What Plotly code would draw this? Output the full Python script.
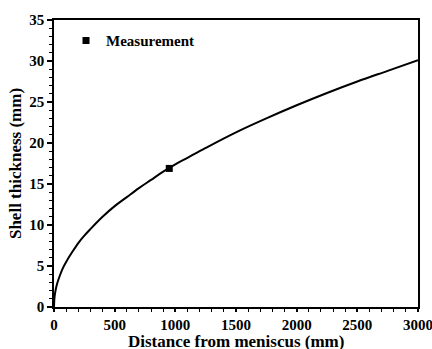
import plotly.graph_objects as go

curve_x = [0, 3, 10, 25, 50, 75, 100, 150, 200, 250, 300, 400, 500, 600, 700, 800, 900, 1000,
           1100, 1250, 1500, 1750, 2000, 2250, 2500, 2750, 3000]
curve_y = [0, 1.0, 1.8, 2.8, 3.9, 4.8, 5.5, 6.7, 7.8, 8.7, 9.5, 11.0, 12.3, 13.4, 14.5, 15.5, 16.5, 17.4,
           18.2, 19.4, 21.3, 23.0, 24.6, 26.1, 27.5, 28.8, 30.1]
meas_x = [950]
meas_y = [16.9]

FONT = "Liberation Serif"

fig = go.Figure()
fig.add_trace(go.Scatter(x=curve_x, y=curve_y, mode="lines", line=dict(color="black", width=2, shape="spline"),
                         showlegend=False))
fig.add_trace(go.Scatter(x=meas_x, y=meas_y, mode="markers", name="<b>Measurement</b>",
                         marker=dict(symbol="square", color="black", size=7)))

axis_common = dict(showgrid=False, zeroline=False, showline=True, linecolor="black", linewidth=1.5,
                   mirror=True, ticks="outside", tickwidth=1.5, tickcolor="black",
                   ticklabeloverflow="allow",
                   tickfont=dict(family=FONT, size=15, color="black"))
xt = [0, 500, 1000, 1500, 2000, 2500, 3000]
yt = [0, 5, 10, 15, 20, 25, 30, 35]
fig.update_xaxes(range=[0, 3000], tickvals=xt, ticktext=["<b>%d</b>" % v for v in xt],
                 automargin=False, ticklen=3,
                 minor=dict(ticks="outside", dtick=100, ticklen=3, tickwidth=1.2, tickcolor="black"),
                 **axis_common)
fig.update_yaxes(range=[0, 35], tickvals=yt, ticktext=["<b>%d</b>" % v for v in yt],
                 automargin=True, ticklen=5,
                 minor=dict(ticks="outside", dtick=1, ticklen=3, tickwidth=1.2, tickcolor="black"),
                 title=dict(text="<b>Shell thickness (mm)</b>", font=dict(family=FONT, size=17, color="black"),
                            standoff=3),
                 **axis_common)
fig.add_annotation(text="<b>Distance from meniscus (mm)</b>", xref="paper", yref="paper",
                   x=0.5, y=-0.12, xanchor="center", yanchor="middle", showarrow=False,
                   font=dict(family=FONT, size=17, color="black"))
fig.update_layout(width=432, height=349, margin=dict(l=54, r=13, t=17, b=42),
                  plot_bgcolor="white", paper_bgcolor="white",
                  legend=dict(x=0.033, y=0.985, xanchor="left", yanchor="top", bgcolor="rgba(0,0,0,0)",
                              font=dict(family=FONT, size=15, color="black")))
fig.write_html("out.html")
